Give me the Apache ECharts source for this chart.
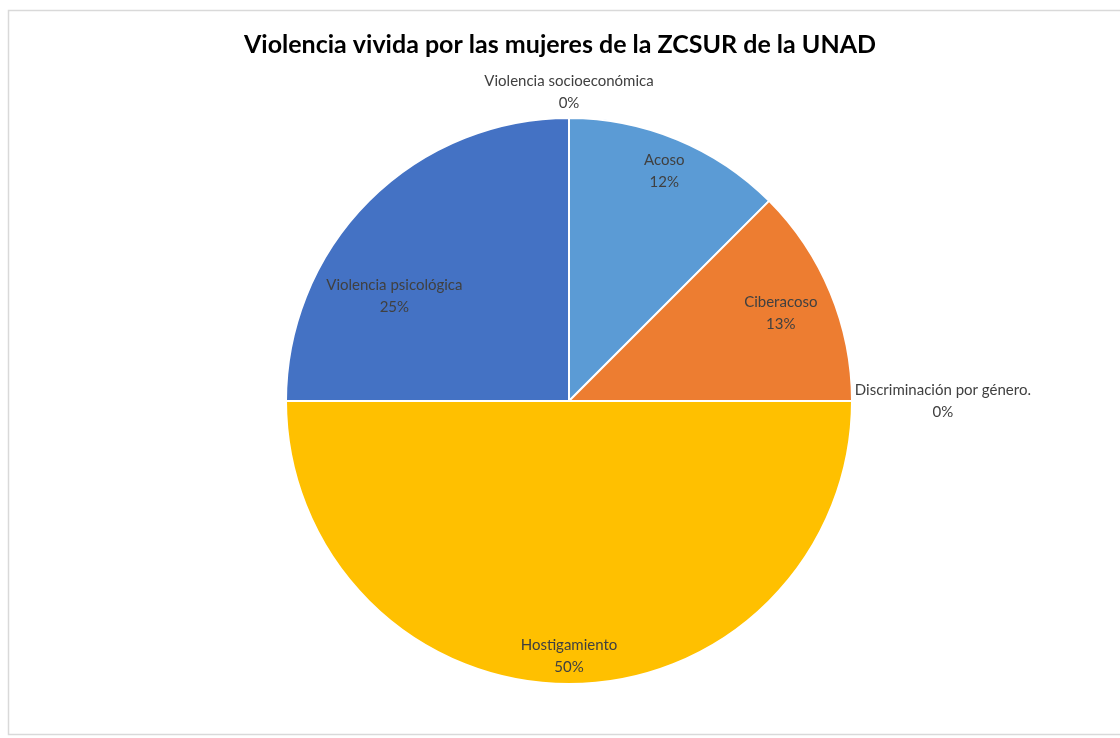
<!DOCTYPE html>
<html>
<head>
<meta charset="utf-8">
<script src="https://cdn.jsdelivr.net/npm/echarts@6/dist/echarts.min.js"></script>
<style>
html,body{margin:0;padding:0;background:#fff;}
#chart{width:1120px;height:738px;}
</style>
</head>
<body>
<div id="chart"></div>
<script>
// ---- data ----
var titleText = 'Violencia vivida por las mujeres de la ZCSUR de la UNAD';
var categories = ['Acoso', 'Ciberacoso', 'Discriminación por género.', 'Hostigamiento', 'Violencia psicológica', 'Violencia socioeconómica'];
var values = [12.5, 12.5, 0, 50, 25, 0];
var percentLabels = ['12%', '13%', '0%', '50%', '25%', '0%'];
var colors = ['#5B9BD5', '#ED7D31', '#A5A5A5', '#FFC000', '#4472C4', '#70AD47'];

// ---- label placement (fraction of radius, angle shift in degrees, alignment) ----
var labelRadius = [0.88, 0.81, 1.01, 0.90, 0.72, 1.09];
var labelAngleShift = [0, 0, 0, 0, -14, 0];
var labelAlign = ['center', 'center', 'left', 'center', 'center', 'center'];

var CX = 569, CY = 401, R = 283;

var chart = echarts.init(document.getElementById('chart'), null, {renderer: 'canvas'});

var total = values.reduce(function (a, b) { return a + b; }, 0);
var midAngles = [];
var acc = 0;
for (var i = 0; i < values.length; i++) {
  midAngles.push((acc + values[i] / 2) / total * 360);
  acc += values[i];
}

var data = categories.map(function (c, i) {
  return {name: c, value: values[i], itemStyle: {color: colors[i]}};
});

chart.setOption({
  backgroundColor: '#ffffff',
  animation: false,
  title: {
    text: titleText,
    left: 'center',
    top: 27,
    padding: [5, 0, 5, 16],
    textStyle: {fontFamily: 'Lato', fontWeight: 'bold', fontSize: 25, color: '#000000'}
  },
  graphic: [{
    type: 'rect',
    shape: {x: 8.5, y: 10.5, width: 1120, height: 724},
    style: {fill: 'none', stroke: '#D9D9D9', lineWidth: 1.5},
    silent: true
  }],
  series: [{
    type: 'pie',
    center: [CX, CY],
    radius: [0, R],
    startAngle: 90,
    clockwise: true,
    data: data,
    itemStyle: {borderColor: '#ffffff', borderWidth: 2},
    label: {
      show: true,
      position: 'inside',
      fontFamily: 'Lato',
      fontSize: 15,
      lineHeight: 22,
      color: '#404040',
      align: 'center',
      formatter: function (p) {
        return p.name + '\n' + percentLabels[p.dataIndex];
      }
    },
    labelLine: {show: false},
    labelLayout: function (p) {
      var i = p.dataIndex;
      var a = (midAngles[i] + labelAngleShift[i]) * Math.PI / 180;
      var rr = labelRadius[i] * R;
      var x = CX + rr * Math.sin(a);
      if (labelAlign[i] === 'left') { x += p.labelRect.width / 2; }
      return {
        x: x,
        y: CY - rr * Math.cos(a),
        align: 'center',
        verticalAlign: 'middle'
      };
    },
    emphasis: {disabled: true}
  }]
});
</script>
</body>
</html>
